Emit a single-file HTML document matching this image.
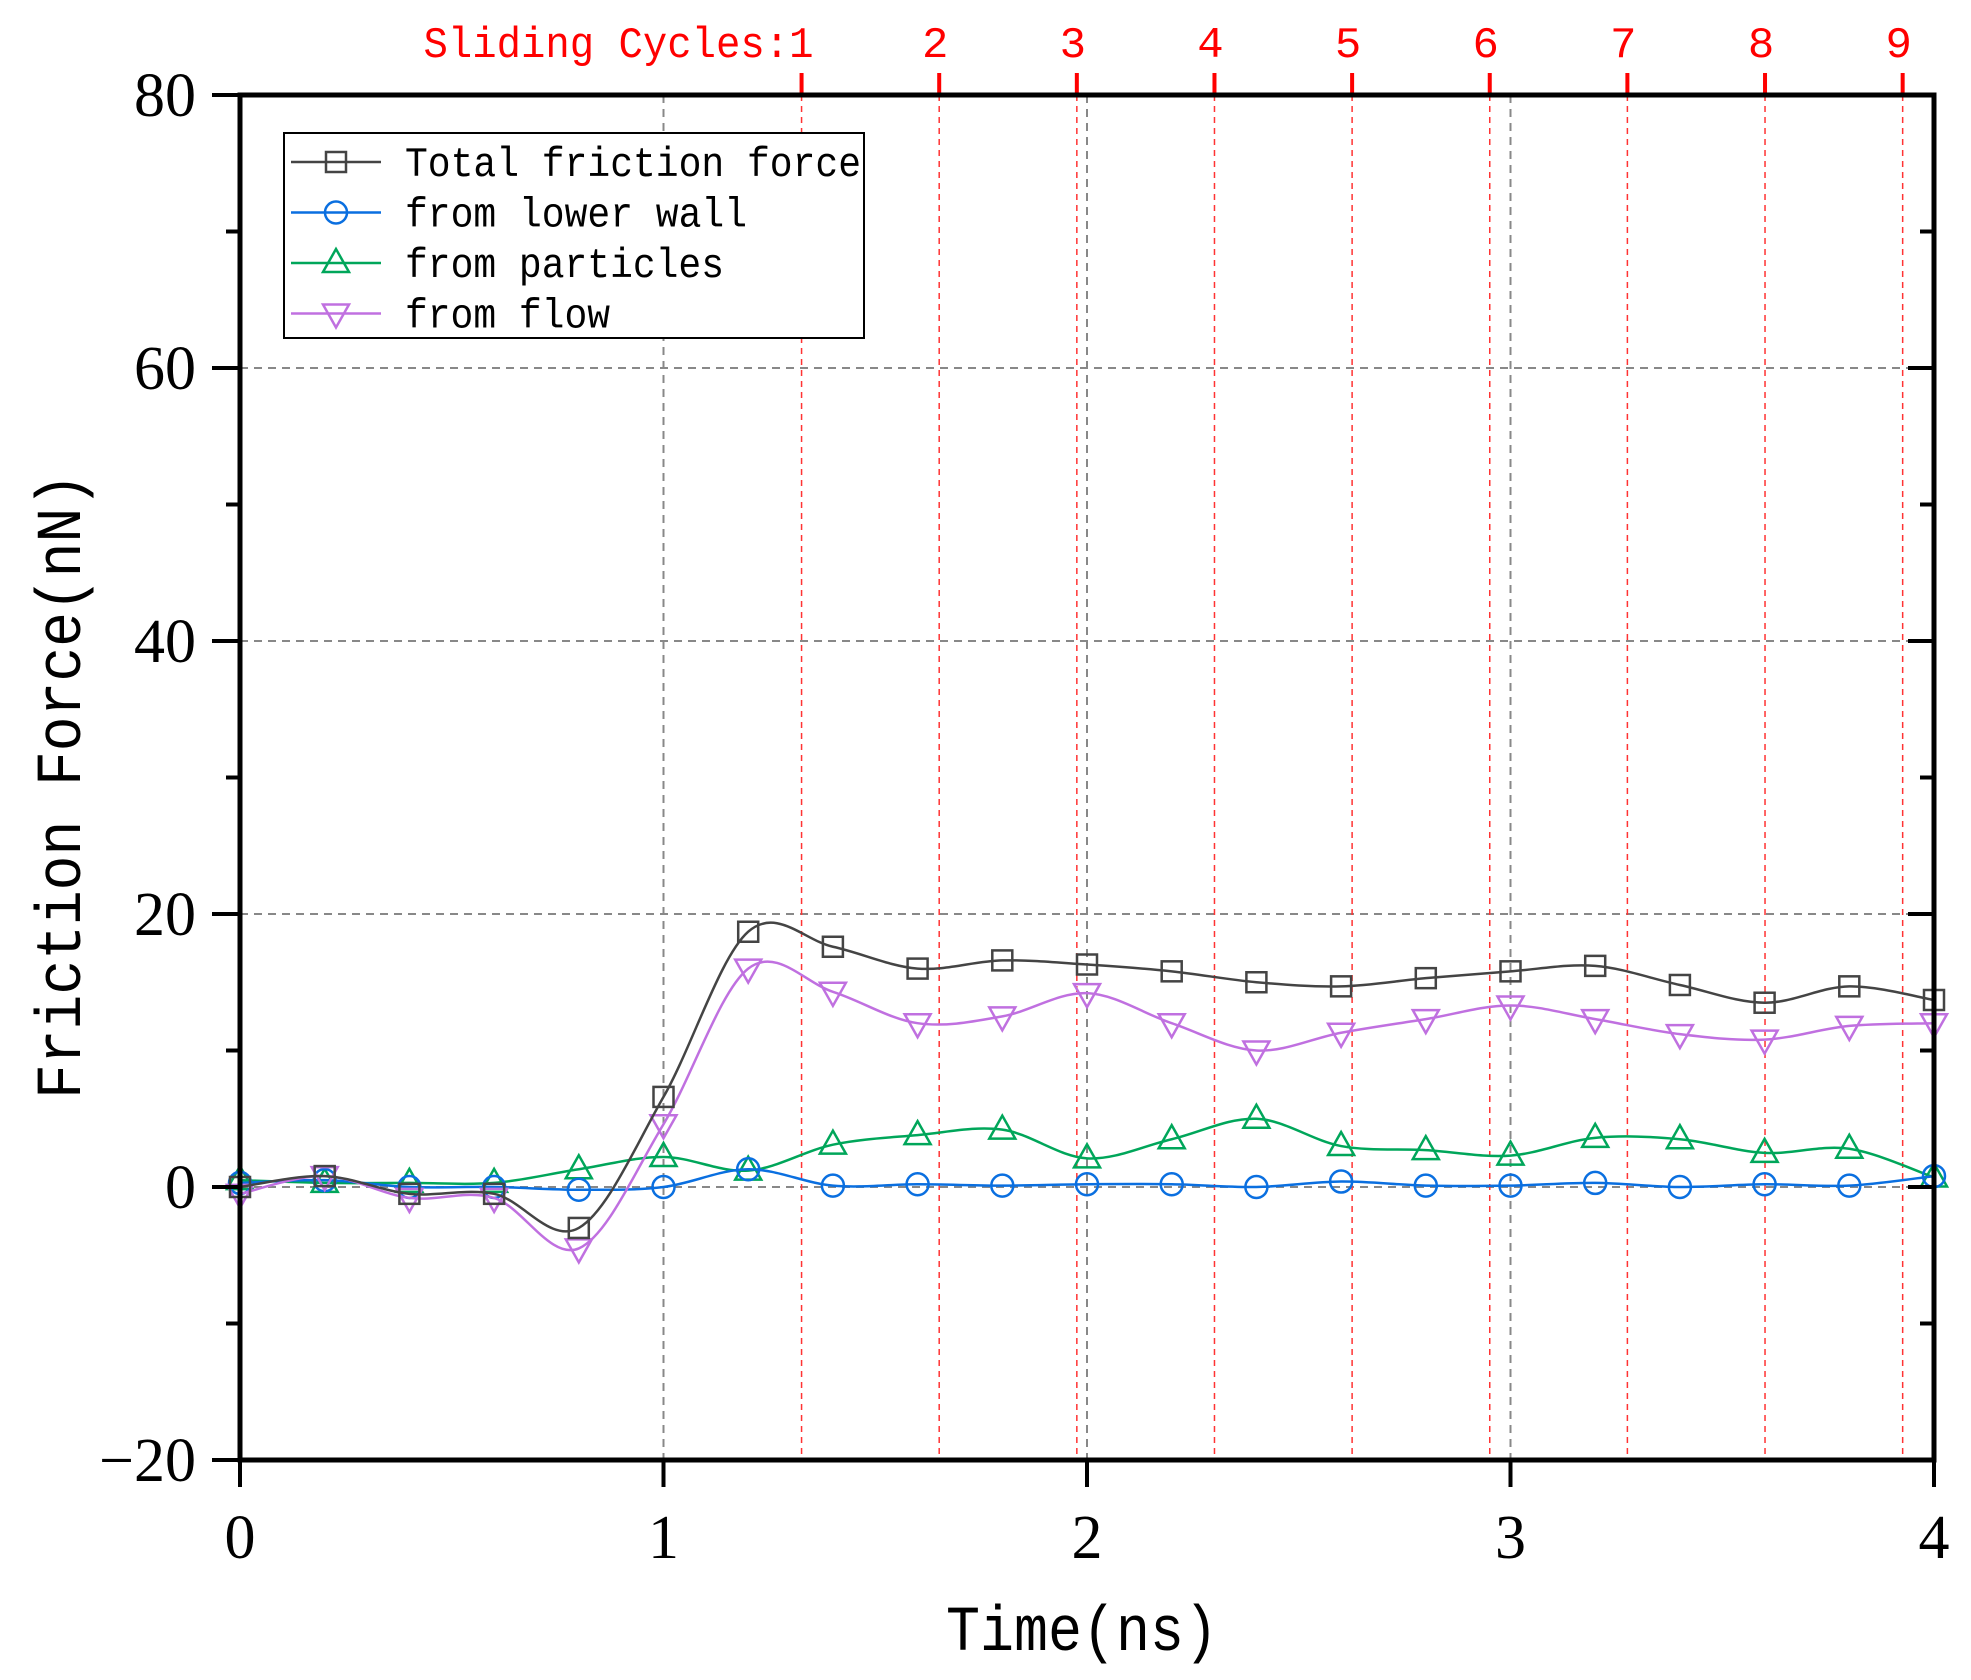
<!DOCTYPE html>
<html><head><meta charset="utf-8"><style>html,body{margin:0;padding:0;background:#fff}svg{display:block}</style></head>
<body>
<svg id="chart" width="1971" height="1680" xmlns="http://www.w3.org/2000/svg">
<g id="grid"></g>
<g id="cycles"></g>
<g id="series"></g>
<g id="axes"></g>
<g id="legend"></g>
<text x="1082" y="1650" text-anchor="middle" font-family="Liberation Mono, monospace" font-size="64" textLength="272" lengthAdjust="spacingAndGlyphs">Time(ns)</text>
<text transform="translate(80,786) rotate(-90)" text-anchor="middle" font-family="Liberation Mono, monospace" font-size="64" textLength="626" lengthAdjust="spacingAndGlyphs">Friction Force(nN)</text>
</svg>
<script>
const times = [0,0.2,0.4,0.6,0.8,1.0,1.2,1.4,1.6,1.8,2.0,2.2,2.4,2.6,2.8,3.0,3.2,3.4,3.6,3.8,4.0];
const totalForce = [0,0.8,-0.5,-0.5,-3,6.6,18.7,17.6,16,16.6,16.3,15.8,15,14.7,15.3,15.8,16.2,14.8,13.5,14.7,13.7];
const lowerWall = [0.3,0.5,0,0,-0.2,0,1.3,0.1,0.2,0.1,0.2,0.2,0,0.4,0.1,0.1,0.3,0,0.2,0.1,0.8];
const particles = [0.5,0.3,0.3,0.3,1.3,2.2,1.2,3.1,3.8,4.2,2.1,3.5,5,3,2.7,2.3,3.6,3.5,2.5,2.8,0.7];
const flow = [-0.5,0.8,-0.8,-0.8,-4.5,4.6,16,14.3,12,12.5,14.2,12,10,11.3,12.3,13.3,12.3,11.2,10.8,11.8,12];
const cycleTimes = [1.326,1.651,1.976,2.301,2.626,2.951,3.276,3.601,3.926];
const cycleLabels = ["Sliding Cycles:1","2","3","4","5","6","7","8","9"];
const yTicks = [-20,0,20,40,60,80];
const xTicks = [0,1,2,3,4];

const L=240,R=1934,T=95,B=1460;
const X=t=>L+(t-0)/4*(R-L);
const Y=v=>B-(v+20)/100*(B-T);
const NS="http://www.w3.org/2000/svg";
function mk(tag,parent,attrs){const e=document.createElementNS(NS,tag);for(const k in attrs)e.setAttribute(k,attrs[k]);parent.appendChild(e);return e;}
const grid=document.getElementById('grid'),cyc=document.getElementById('cycles'),ser=document.getElementById('series'),axes=document.getElementById('axes'),leg=document.getElementById('legend');

[20,40,60].forEach(v=>{const l=mk('line',grid,{x1:L,x2:R,y1:Y(v),y2:Y(v),stroke:'#888','stroke-width':2,'stroke-dasharray':'8,6'});

});
[1,2,3].forEach(t=>{const l=mk('line',grid,{x1:X(t),x2:X(t),y1:T,y2:B,stroke:'#888','stroke-width':2,'stroke-dasharray':'8,6'});

});
const zl=mk('line',grid,{x1:L,x2:R,y1:Y(0),y2:Y(0),stroke:'#888','stroke-width':2,'stroke-dasharray':'8,6'});



cycleTimes.forEach((t,i)=>{
 const l=mk('line',cyc,{x1:X(t),x2:X(t),y1:T,y2:B,stroke:'#f33','stroke-width':1.5,'stroke-dasharray':'6,5'});
 
 
 const tk=mk('line',cyc,{x1:X(t),x2:X(t),y1:T-22,y2:T,stroke:'#f00','stroke-width':4});
 
 
 const tx=mk('text',cyc,{x:X(t)+ (i==0?12:-4),y:57,'text-anchor':i==0?'end':'middle',fill:'#f00','font-family':'Liberation Mono, monospace','font-size':44});
 if(i==0){tx.setAttribute('textLength',390);tx.setAttribute('lengthAdjust','spacingAndGlyphs');}
 tx.textContent=cycleLabels[i];
 
 
});

function pathD(vals){
 const p=times.map((t,i)=>[X(t),Y(vals[i])]);
 let d=`M${p[0][0]},${p[0][1]}`;
 for(let i=0;i<p.length-1;i++){
  const p0=p[Math.max(0,i-1)],p1=p[i],p2=p[i+1],p3=p[Math.min(p.length-1,i+2)];
  const c1=[p1[0]+(p2[0]-p0[0])/6,p1[1]+(p2[1]-p0[1])/6],c2=[p2[0]-(p3[0]-p1[0])/6,p2[1]-(p3[1]-p1[1])/6];
  d+=` C${c1[0]},${c1[1]} ${c2[0]},${c2[1]} ${p2[0]},${p2[1]}`;
 }
 return d;
}
function marker(g,type,x,y,color){
 let e;
 if(type=='sq')e=mk('rect',g,{x:x-10,y:y-10,width:20,height:20});
 else if(type=='ci')e=mk('circle',g,{cx:x,cy:y,r:11});
 else if(type=='up')e=mk('polygon',g,{points:`${x},${y-14} ${x-13},${y+9} ${x+13},${y+9}`});
 else e=mk('polygon',g,{points:`${x},${y+14} ${x-13},${y-9} ${x+13},${y-9}`});
 e.setAttribute('fill','none');e.setAttribute('stroke',color);e.setAttribute('stroke-width',2.5);
 return e;
}
const seriesDefs=[
 {vals:particles,color:'#00a65a',m:'up',name:'particles'},
 {vals:lowerWall,color:'#0a6fe0',m:'ci',name:'lower-wall'},
 {vals:flow,color:'#c070e0',m:'dn',name:'flow'},
 {vals:totalForce,color:'#444',m:'sq',name:'total'}];
seriesDefs.forEach(s=>{
 const g=mk('g',ser,{});
 
 
 const p=mk('path',g,{d:pathD(s.vals),fill:'none',stroke:s.color,'stroke-width':2.5});
 
 
 times.forEach((t,i)=>{const m=marker(g,s.m,X(t),Y(s.vals[i]),s.color);
 
 });
});

const fr=mk('rect',axes,{x:L,y:T,width:R-L,height:B-T,fill:'none',stroke:'#000','stroke-width':5});


for(let v=-20;v<=80;v+=10){
 const major=v%20==0;
 const t1=mk('line',axes,{x1:L-(major?28:14),x2:L,y1:Y(v),y2:Y(v),stroke:'#000','stroke-width':4});
 
 
 const t2=mk('line',axes,{x1:R-(major?26:14),x2:R,y1:Y(v),y2:Y(v),stroke:'#000','stroke-width':4});
 
 
}
yTicks.forEach(v=>{
 const t=mk('text',axes,{x:196,y:Y(v)+21,'text-anchor':'end','font-family':'Liberation Serif, serif','font-size':62});
 t.textContent=v<0?'\u2212'+Math.abs(v):v;
 
 
});
xTicks.forEach(v=>{
 const tk=mk('line',axes,{x1:X(v),x2:X(v),y1:B,y2:B+27,stroke:'#000','stroke-width':4});
 
 
 const t=mk('text',axes,{x:X(v),y:B+98,'text-anchor':'middle','font-family':'Liberation Serif, serif','font-size':62});
 t.textContent=v;
 
 
});

const lb=mk('rect',leg,{x:284,y:133,width:580,height:205,fill:'#fff',stroke:'#000','stroke-width':2});


const legItems=[['Total friction force','#444','sq',456],['from lower wall','#0a6fe0','ci',342],['from particles','#00a65a','up',319],['from flow','#c070e0','dn',205]];
legItems.forEach((it,i)=>{
 const y=162+i*50.5;
 const g=mk('g',leg,{});
 
 
 mk('line',g,{x1:291,x2:381,y1:y,y2:y,stroke:it[1],'stroke-width':2.5});
 marker(g,it[2],336,y,it[1]);
 const t=mk('text',g,{x:405,y:y+14,'font-family':'Liberation Mono, monospace','font-size':42,textLength:it[3],lengthAdjust:'spacingAndGlyphs'});
 t.textContent=it[0];
});
</script>
</body></html>
